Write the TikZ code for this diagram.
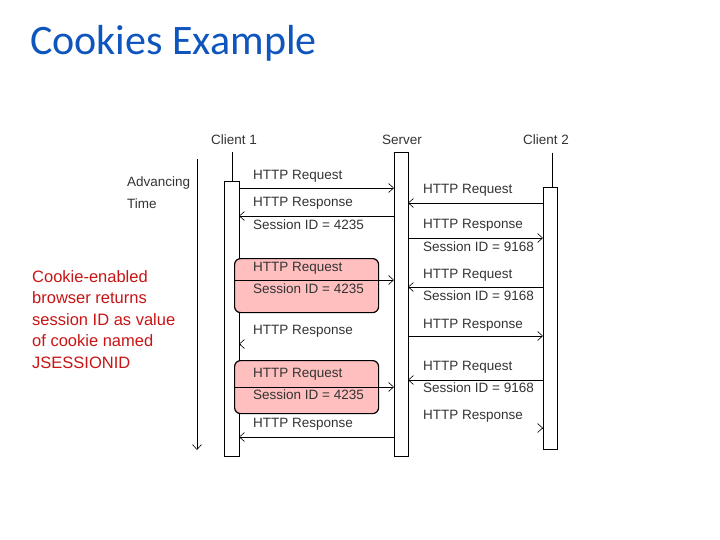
\documentclass[tikz,border=0pt]{standalone}
\usepackage{fontspec}
\setmainfont{Liberation Sans}
\newfontfamily\titlefont{Carlito}
\usetikzlibrary{arrows.meta}
\begin{document}
\begin{tikzpicture}[x=1pt,y=-1pt,
  bar/.style={draw,fill=white,line width=0.8pt},
  msg/.style={-{Straight Barb[length=5pt,width=9pt]},line width=0.6pt},
  lab/.style={font=\fontsize{13.5}{15}\selectfont,text=black!80,anchor=west,inner sep=0},
  cook/.style={draw,line width=1.2pt,fill=red!25,rounded corners=6pt}]
\useasboundingbox (0,0) rectangle (720,540);
\node[font=\titlefont\fontsize{42}{46}\selectfont,text={rgb,255:red,15;green,85;blue,190},anchor=west,inner sep=0] (title) at (30,43) {Cookies Example};
\node[anchor=north west,align=left,inner sep=0,text={rgb,255:red,200;green,20;blue,20},font=\fontsize{16.5}{21.5}\selectfont] (note) at (32,270) {Cookie-enabled\\browser returns\\session ID as value\\of cookie named\\JSESSIONID};
% headers
\node[lab,anchor=center] (c1) at (234,140) {Client 1};
\node[lab,anchor=center] (sv) at (402,140) {Server};
\node[lab,anchor=center] (c2) at (546,140) {Client 2};
\draw[line width=0.6pt] (232,152) -- (232,181);
\draw[line width=0.6pt] (552,153) -- (552,187);
% bars
\node[bar,minimum width=15,minimum height=275,anchor=north west,inner sep=0] (b1) at (224,181) {};
\node[bar,minimum width=14,minimum height=304,anchor=north west,inner sep=0] (bs) at (394,152) {};
\node[bar,minimum width=14,minimum height=262,anchor=north west,inner sep=0] (b2) at (543,187) {};
% pink boxes
\node[cook,minimum width=144,minimum height=54,anchor=north west] (box1) at (234,258) {};
\node[cook,minimum width=144,minimum height=53,anchor=north west] (box2) at (234,360) {};
% time
\node[lab] (adv) at (127,183) {Advancing};
\node[lab] (tim) at (127,204) {Time};
\coordinate (t0) at (197,159); \coordinate (t1) at (197,450);
\draw[msg] (t0) -- (t1);
% messages client 1
\draw[msg] (239,188) -- (394,188);
\node[lab] at (253,176) {HTTP Request};
\draw[msg] (394,216) -- (239,216);
\node[lab] at (253,203) {HTTP Response};
\node[lab] at (253,225) {Session ID = 4235};
\draw[msg] (234,280) -- (394,280);
\node[lab] at (253,268) {HTTP Request};
\node[lab] at (253,289) {Session ID = 4235};
\draw[msg] (240,344) -- (239,344);
\node[lab] at (253,331) {HTTP Response};
\draw[msg] (234,387) -- (394,387);
\node[lab] at (253,374) {HTTP Request};
\node[lab] at (253,395) {Session ID = 4235};
\draw[msg] (394,437) -- (239,437);
\node[lab] at (253,424) {HTTP Response};
% messages client 2
\draw[msg] (543,203) -- (408,203);
\node[lab] at (423,190) {HTTP Request};
\draw[msg] (408,238) -- (543,238);
\node[lab] at (423,225) {HTTP Response};
\node[lab] at (423,247) {Session ID = 9168};
\draw[msg] (543,287) -- (408,287);
\node[lab] at (423,275) {HTTP Request};
\node[lab] at (423,296) {Session ID = 9168};
\draw[msg] (408,336) -- (543,336);
\node[lab] at (423,325) {HTTP Response};
\draw[msg] (543,380) -- (408,380);
\node[lab] at (423,367) {HTTP Request};
\node[lab] at (423,388) {Session ID = 9168};
\draw[msg] (542,428) -- (543,428);
\node[lab] at (423,416) {HTTP Response};
\end{tikzpicture}
\end{document}
